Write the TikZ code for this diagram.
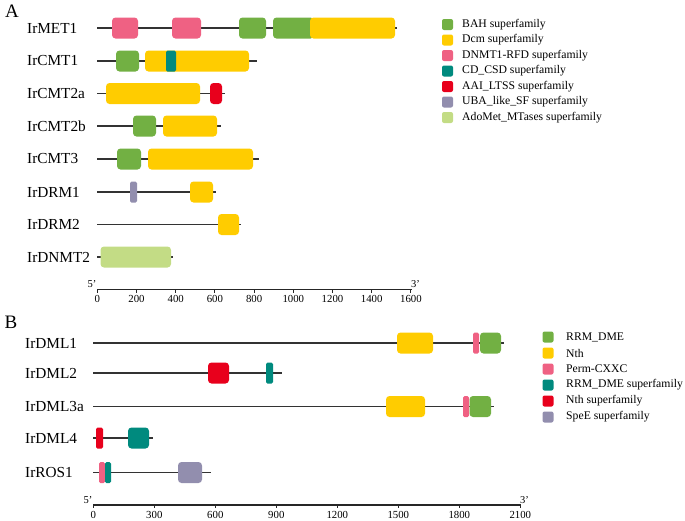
\documentclass[tikz,border=0pt]{standalone}
\usepackage{fontspec}
\setmainfont{Liberation Serif}
\definecolor{cgreen}{HTML}{72B043}
\definecolor{cyellow}{HTML}{FFCC00}
\definecolor{cpink}{HTML}{EF6183}
\definecolor{cteal}{HTML}{008A7E}
\definecolor{cred}{HTML}{E8001C}
\definecolor{cpurple}{HTML}{928EAE}
\definecolor{clgreen}{HTML}{C3DC85}
\definecolor{cline}{HTML}{333333}
\newcommand\mydomwide[4]{\fill[#4, rounded corners=3.5pt] (#1,#3-10.5) rectangle (#2,#3+10.5);}
\newcommand\mydomthin[4]{\fill[#4, rounded corners=1.5pt] (#1,#3-10.5) rectangle (#2,#3+10.5);}
\begin{document}
\begin{tikzpicture}[x=1pt,y=-1pt,
  backbone/.style={draw=cline, line width=1.2pt},
  axisline/.style={draw=black!85, line width=1.2pt},
  tickmark/.style={draw=black!85, line width=0.9pt},
  protlabel/.style={anchor=west, inner sep=0pt, font=\fontsize{15.3}{17}\selectfont},
  ticklabel/.style={anchor=center, inner sep=0pt, font=\fontsize{10.8}{12}\selectfont},
  endlabel/.style={anchor=center, inner sep=0pt, font=\fontsize{10.5}{12}\selectfont},
  legtext/.style={anchor=west, inner sep=0pt, font=\fontsize{11.7}{13}\selectfont},
  panel/.style={anchor=center, inner sep=0pt, font=\fontsize{19}{21}\selectfont}]
\useasboundingbox (0,0) rectangle (685,520);

% ---------------- Panel A ----------------
\node[panel] (pA) at (12,11) {A};

% IrMET1
\node[protlabel] (lMET1) at (27,28) {IrMET1};
\draw[backbone] (97,28) -- (397,28);
\mydomwide{112}{138}{28}{cpink}
\mydomwide{172}{201}{28}{cpink}
\mydomwide{239}{266}{28}{cgreen}
\mydomwide{273}{314}{28}{cgreen}
\mydomwide{310}{395}{28}{cyellow}

% IrCMT1
\node[protlabel] (lCMT1) at (27,61) {IrCMT1};
\draw[backbone] (97,61) -- (257,61);
\mydomwide{116}{139}{61}{cgreen}
\mydomwide{145}{249}{61}{cyellow}
\mydomthin{166}{176}{61}{cteal}

% IrCMT2a
\node[protlabel] (lCMT2a) at (27,93.5) {IrCMT2a};
\draw[backbone] (97,93.5) -- (225,93.5);
\mydomwide{106}{200}{93.5}{cyellow}
\mydomwide{210}{222}{93.5}{cred}

% IrCMT2b
\node[protlabel] (lCMT2b) at (27,126) {IrCMT2b};
\draw[backbone] (97,126) -- (221,126);
\mydomwide{133}{156}{126}{cgreen}
\mydomwide{163}{217}{126}{cyellow}

% IrCMT3
\node[protlabel] (lCMT3) at (27,159) {IrCMT3};
\draw[backbone] (97,159) -- (259,159);
\mydomwide{117}{141}{159}{cgreen}
\mydomwide{148}{253}{159}{cyellow}

% IrDRM1
\node[protlabel] (lDRM1) at (27,192) {IrDRM1};
\draw[backbone] (97,192) -- (216,192);
\mydomthin{130}{137}{192}{cpurple}
\mydomwide{190}{213}{192}{cyellow}

% IrDRM2
\node[protlabel] (lDRM2) at (27,224.5) {IrDRM2};
\draw[backbone] (97,224.5) -- (241,224.5);
\mydomwide{218}{239}{224.5}{cyellow}

% IrDNMT2
\node[protlabel] (lDNMT2) at (27,257) {IrDNMT2};
\draw[backbone] (97,257) -- (173,257);
\mydomwide{100.5}{171}{257}{clgreen}

% axis A
\draw[axisline] (97.3,289.3) -- (411.5,289.3);
\foreach \v [count=\i from 0] in {0,200,...,1600}{
  \draw[tickmark] ({97.3+\i*39.2},289.3) -- ({97.3+\i*39.2},292.5);
  \node[ticklabel] (tA\i) at ({97.3+\i*39.2},298.5) {\v};
}
\node[endlabel] (fiveA) at (92,284.5) {5'};
\node[endlabel] (threeA) at (415.5,284.5) {3'};

% legend A
\foreach \c/\t [count=\i from 0] in {cgreen/BAH superfamily, cyellow/Dcm superfamily, cpink/DNMT1-RFD superfamily, cteal/CD\_CSD superfamily, cred/AAI\_LTSS superfamily, cpurple/UBA\_like\_SF superfamily, clgreen/AdoMet\_MTases superfamily}{
  \fill[\c, rounded corners=2pt] (442,{24.5+\i*15.5-5.5}) rectangle (453,{24.5+\i*15.5+5.5});
  \node[legtext] (legA\i) at (462,{24.5+\i*15.5}) {\t};
}

% ---------------- Panel B ----------------
\node[panel] (pB) at (11,322) {B};

% IrDML1
\node[protlabel] (lDML1) at (25,343) {IrDML1};
\draw[backbone] (93,343) -- (504,343);
\mydomwide{397}{433}{343}{cyellow}
\mydomthin{473}{479}{343}{cpink}
\mydomwide{480}{501}{343}{cgreen}

% IrDML2
\node[protlabel] (lDML2) at (25,373) {IrDML2};
\draw[backbone] (93,373) -- (282,373);
\mydomwide{208}{229}{373}{cred}
\mydomthin{266}{273}{373}{cteal}

% IrDML3a
\node[protlabel] (lDML3a) at (25,406.5) {IrDML3a};
\draw[backbone] (93,406.5) -- (494,406.5);
\mydomwide{386}{425}{406.5}{cyellow}
\mydomthin{463}{469}{406.5}{cpink}
\mydomwide{469.5}{491}{406.5}{cgreen}

% IrDML4
\node[protlabel] (lDML4) at (25,438) {IrDML4};
\draw[backbone] (93,438) -- (153,438);
\mydomthin{96}{103}{438}{cred}
\mydomwide{128}{149}{438}{cteal}

% IrROS1
\node[protlabel] (lROS1) at (25,472.5) {IrROS1};
\draw[backbone] (93,472.5) -- (211,472.5);
\mydomthin{99}{105}{472.5}{cpink}
\mydomthin{105}{111}{472.5}{cteal}
\mydomwide{178}{202}{472.5}{cpurple}

% axis B
\draw[axisline] (93.3,505) -- (520.5,505);
\foreach \v [count=\i from 0] in {0,300,...,2100}{
  \draw[tickmark] ({93.3+\i*61},505) -- ({93.3+\i*61},508.2);
  \node[ticklabel] (tB\i) at ({93.3+\i*61},514.5) {\v};
}
\node[endlabel] (fiveB) at (88,500.5) {5'};
\node[endlabel] (threeB) at (524.5,500) {3'};

% legend B
\foreach \c/\t [count=\i from 0] in {cgreen/RRM\_DME, cyellow/Nth, cpink/Perm-CXXC, cteal/RRM\_DME superfamily, cred/Nth superfamily, cpurple/SpeE superfamily}{
  \fill[\c, rounded corners=2pt] (542.5,{337+\i*16-5.5}) rectangle (553.5,{337+\i*16+5.5});
  \node[legtext] (legB\i) at (566,{337+\i*16}) {\t};
}
\end{tikzpicture}
\end{document}
